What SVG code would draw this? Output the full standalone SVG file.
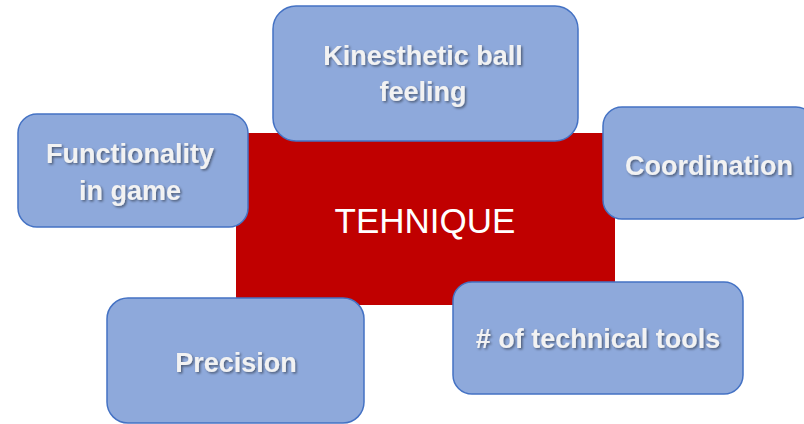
<svg xmlns="http://www.w3.org/2000/svg" width="804" height="424" viewBox="0 0 804 424">
  <defs>
    <filter id="shadow" x="-10%" y="-20%" width="130%" height="150%">
      <feDropShadow dx="1.5" dy="1.5" stdDeviation="1" flood-color="#000" flood-opacity="0.45"/>
    </filter>
  </defs>
  <style>
    .box { fill: #8EA9DB; stroke: #4472C4; stroke-width: 1.5; }
    .lbl { font-family: "Liberation Sans", Arial, sans-serif; font-weight: bold; font-size: 27px; fill: #F2F2F2; text-anchor: middle; filter: url(#shadow); }
    .main { font-family: "Liberation Sans", Arial, sans-serif; font-size: 35px; fill: #FFFFFF; text-anchor: middle; }
  </style>
  <rect width="804" height="424" fill="#FFFFFF"/>
  <g id="connectors"></g>
  <g id="center">
    <rect x="236" y="133" width="379" height="172" rx="8" fill="#C00000"/>
    <text class="main" x="425" y="233">TEHNIQUE</text>
  </g>
  <g id="kinesthetic">
    <rect class="box" x="273" y="6" width="305" height="135" rx="23"/>
    <text class="lbl" x="423" y="65">Kinesthetic ball</text>
    <text class="lbl" x="423" y="101">feeling</text>
  </g>
  <g id="functionality">
    <rect class="box" x="18" y="114" width="230" height="113" rx="19"/>
    <text class="lbl" x="130" y="163">Functionality</text>
    <text class="lbl" x="130" y="200">in game</text>
  </g>
  <g id="coordination">
    <rect class="box" x="603" y="107" width="212" height="112" rx="19"/>
    <text class="lbl" x="709" y="175">Coordination</text>
  </g>
  <g id="precision">
    <rect class="box" x="107" y="298" width="257" height="125" rx="21"/>
    <text class="lbl" x="236" y="372">Precision</text>
  </g>
  <g id="tools">
    <rect class="box" x="453" y="282" width="290" height="112" rx="19"/>
    <text class="lbl" x="598" y="348"># of technical tools</text>
  </g>
</svg>
